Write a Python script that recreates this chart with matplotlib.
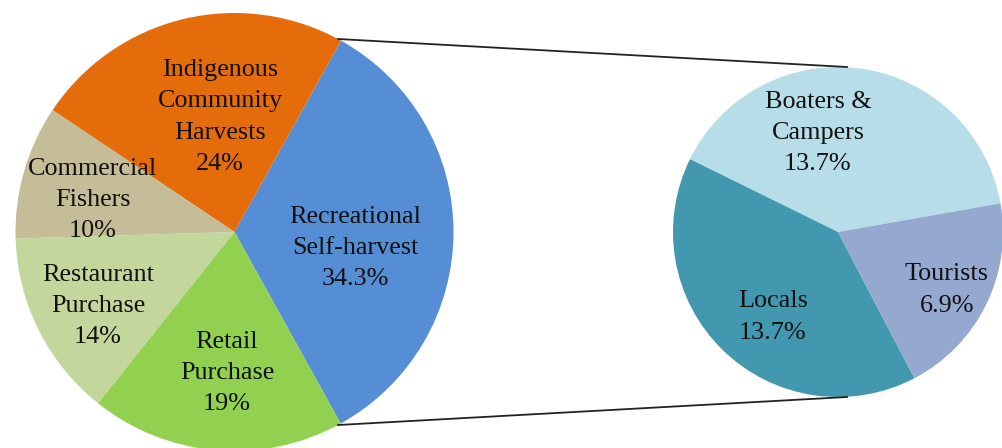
import matplotlib
matplotlib.use("Agg")
import matplotlib.pyplot as plt

# harvest sources (left pie)
sources = ["Recreational\nSelf-harvest", "Indigenous\nCommunity\nHarvests",
           "Commercial\nFishers", "Restaurant\nPurchase", "Retail\nPurchase"]
source_pct = [34.3, 24, 10, 14, 19]
source_colors = ["#558ED5", "#E46C0A", "#C4BD97", "#C3D69B", "#92D050"]

# breakdown of recreational self-harvest (right pie)
groups = ["Boaters &\nCampers", "Locals", "Tourists"]
group_pct = [13.7, 13.7, 6.9]
group_colors = ["#B7DDE8", "#4298AF", "#95A9D0"]

W, H = 1002, 448
fig = plt.figure(figsize=(W / 100, H / 100), dpi=100)
ax = fig.add_axes([0, 0, 1, 1])

font = dict(family="Liberation Serif", size=18.8, color="#111111")

left_c, left_r = (234.5, H - 232), 219
right_c, right_r = (838, H - 232), 165

ax.pie(source_pct, colors=source_colors, startangle=-61, counterclock=True,
       center=left_c, radius=left_r, wedgeprops=dict(linewidth=0))
ax.pie(group_pct, colors=group_colors, startangle=10, counterclock=True,
       center=right_c, radius=right_r, wedgeprops=dict(linewidth=0))

# label positions in pixel space (x, y from top)
src_pos = [(355, 248), (220, 117), (93, 200), (98, 306), (227, 373)]
grp_pos = [(818, 133), (773, 317), (947, 290)]

for name, v, (x, y) in zip(sources, source_pct, src_pos):
    ax.text(x, H - y, f"{name}\n{v:g}%", ha="center", va="center",
            linespacing=1.55, **font)
for name, v, (x, y) in zip(groups, group_pct, grp_pos):
    ax.text(x, H - y, f"{name}\n{v:g}%", ha="center", va="center",
            linespacing=1.55, **font)

# connector lines from the recreational slice to the breakdown pie
ax.plot([338, 847], [H - 39, H - 67], color="#222222", lw=1.3)
ax.plot([338, 847], [H - 425, H - 397], color="#222222", lw=1.3)

ax.set_xlim(0, W)
ax.set_ylim(0, H)
ax.set_aspect("equal")
ax.axis("off")

fig.savefig("out.png", dpi=100, facecolor="white")
